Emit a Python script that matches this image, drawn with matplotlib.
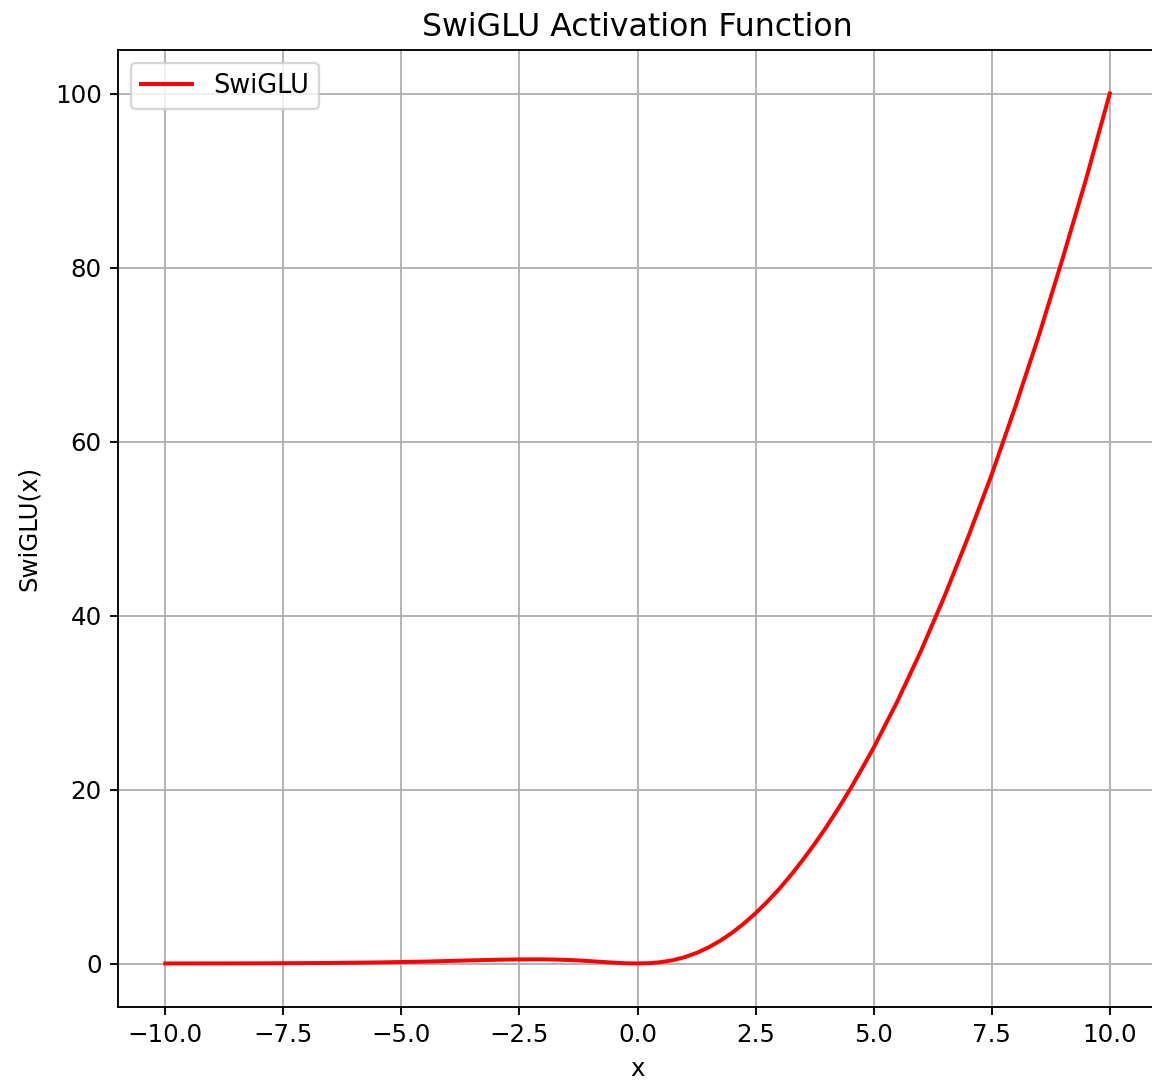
import matplotlib
matplotlib.use('Agg')
import matplotlib.pyplot as plt

# values (denser where it bends)
x = [-10.0, -9.5, -9.0, -8.5, -8.0, -7.5, -7.0, -6.5, -6.0, -5.5, -5.0,
     -4.5, -4.0, -3.5, -3.0, -2.5, -2.0, -1.75, -1.5, -1.25, -1.0, -0.75, -0.5, -0.25, 0.0,
     0.25, 0.5, 0.75, 1.0, 1.25, 1.5, 1.75, 2.0, 2.25, 2.5, 2.75, 3.0, 3.25, 3.5, 3.75,
     4.0, 4.25, 4.5, 4.75, 5.0,
     5.5, 6.0, 6.5, 7.0, 7.5, 8.0, 8.5, 9.0, 9.5, 10.0]
swiglu = [0.005, 0.007, 0.01, 0.015, 0.02, 0.03, 0.045, 0.063, 0.089, 0.12, 0.17,
          0.22, 0.29, 0.36, 0.43, 0.47, 0.48, 0.45, 0.41, 0.35, 0.27, 0.18, 0.09, 0.027, 0.0,
          0.035, 0.16, 0.38, 0.73, 1.21, 1.84, 2.61, 3.52, 4.58, 5.78, 7.11, 8.57, 10.17, 11.9, 13.74,
          15.7, 17.81, 20.0, 22.37, 24.8,
          30.1, 35.9, 42.2, 49.0, 56.2, 64.0, 72.2, 81.0, 90.2, 100.0]

dpi = 168
fig = plt.figure(figsize=(1152 / dpi, 1085 / dpi), dpi=dpi)
ax = fig.add_axes([118 / 1152, 78 / 1085, (1157 - 118) / 1152, (1007 - 50) / 1085])

ax.plot(x, swiglu, color='red', linewidth=1.7, label='SwiGLU')
ax.set_title('SwiGLU Activation Function', fontsize=13.5)
ax.set_xlabel('x', fontsize=10.5)
ax.set_ylabel('SwiGLU(x)', fontsize=10.5, labelpad=6)
ax.tick_params(labelsize=10.5)
ax.grid(True)
ax.legend(loc='upper left', fontsize=11)

fig.savefig('out.png', dpi=dpi)
